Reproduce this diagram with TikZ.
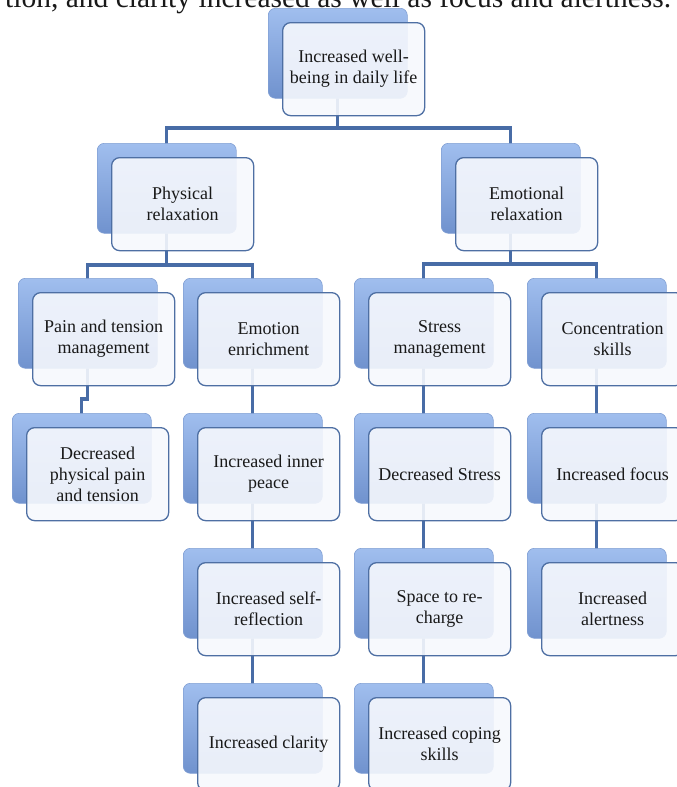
\documentclass[tikz,border=0pt]{standalone}
\usepackage{fontspec}
\setmainfont{Liberation Serif}
\pgfdeclarelayer{bg}
\pgfsetlayers{bg,main}
\definecolor{conncol}{RGB}{72,108,166}
\definecolor{framecol}{RGB}{78,111,163}
\definecolor{frontfill}{RGB}{246,248,253}
\definecolor{shtop}{RGB}{160,190,238}
\definecolor{shbot}{RGB}{112,146,206}
\definecolor{shline}{RGB}{130,160,212}
\definecolor{textcol}{RGB}{25,25,25}
\tikzset{
  shadowbox/.style={draw=shline, line width=0.6pt, rounded corners=7pt,
    minimum width=139pt, minimum height=90pt, top color=shtop, bottom color=shbot, inner sep=0pt},
  frontbox/.style={draw=framecol, line width=1.3pt, rounded corners=8pt,
    minimum width=142pt, minimum height=93pt, fill=frontfill, fill opacity=0.9, text opacity=1,
    align=center, font=\fontsize{18}{21}\selectfont, text=textcol, inner sep=0pt},
  conn/.style={draw=conncol, line width=3.2pt},
  captiontext/.style={font=\fontsize{29.5}{32}\selectfont, text=textcol, inner sep=0pt}
}
\newcommand\orgnode[4]{%
  \node[shadowbox, anchor=north west] (s#1) at (#2-14,#3-14) {};
  \node[frontbox, anchor=north west] (f#1) at (#2,#3) {#4};
}
\begin{document}
\begin{tikzpicture}[x=1pt,y=-1pt]
\useasboundingbox (0,0) rectangle (677,787);
\clip (0,0) rectangle (677,787);
\node[captiontext, anchor=base west] (caption) at (5,7) {tion, and clarity increased as well as focus and alertness.};

\orgnode{top}{282}{22}{Increased well-\\being in daily life}
\orgnode{phys}{111}{157}{Physical\\relaxation}
\orgnode{emo}{455}{157}{Emotional\\relaxation}
\orgnode{pain}{32}{292}{Pain and tension\\management}
\orgnode{enr}{197}{292}{Emotion\\enrichment}
\orgnode{stress}{368}{292}{Stress\\management}
\orgnode{conc}{541}{292}{Concentration\\skills}
\orgnode{dec}{26}{427}{Decreased\\physical pain\\and tension}
\orgnode{inner}{197}{427}{Increased inner\\peace}
\orgnode{dstress}{368}{427}{Decreased Stress}
\orgnode{focus}{541}{427}{Increased focus}
\orgnode{self}{197}{562}{Increased self-\\reflection}
\orgnode{space}{368}{562}{Space to re-\\charge}
\orgnode{alert}{541}{562}{Increased\\alertness}
\orgnode{clar}{197}{697}{Increased clarity}
\orgnode{cope}{368}{697}{Increased coping\\skills}

\begin{pgfonlayer}{bg}
\draw[conn] (stop.center) -- (stop.center |- 0,128) -| (sphys.center);
\draw[conn] (stop.center |- 0,128) -| (semo.center);
\draw[conn] (sphys.center) -- (sphys.center |- 0,265) -| (spain.center);
\draw[conn] (sphys.center |- 0,265) -| (senr.center);
\draw[conn] (semo.center) -- (semo.center |- 0,264) -| (sstress.center);
\draw[conn] (semo.center |- 0,264) -| (sconc.center);
\draw[conn] (spain.center) -- (spain.center |- 0,399) -| (sdec.center);
\draw[conn] (senr.center) -- (sinner.center) -- (sself.center) -- (sclar.center);
\draw[conn] (sstress.center) -- (sdstress.center) -- (sspace.center) -- (scope.center);
\draw[conn] (sconc.center) -- (sfocus.center) -- (salert.center);
\end{pgfonlayer}
\end{tikzpicture}
\end{document}
